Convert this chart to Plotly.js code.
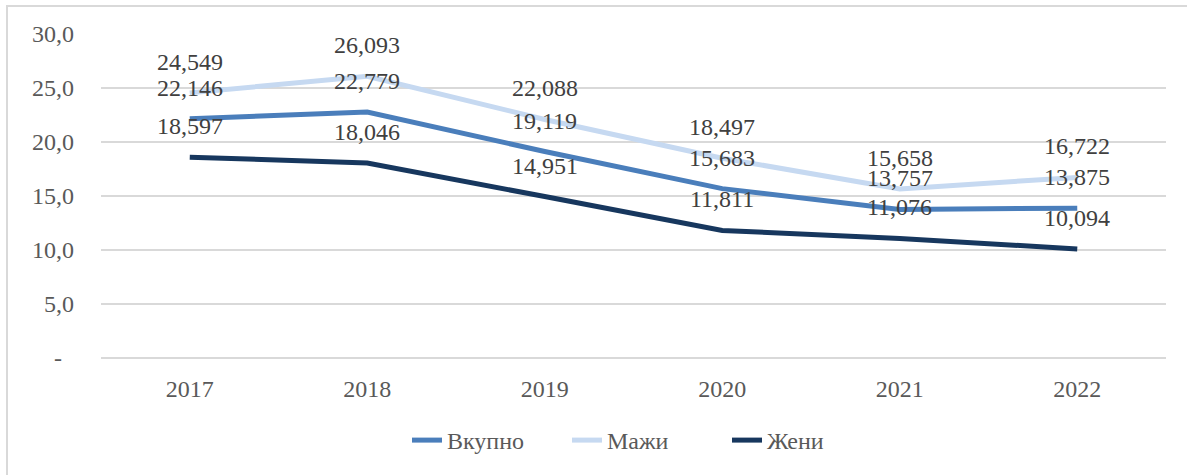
<!DOCTYPE html>
<html>
<head>
<meta charset="utf-8">
<script src="https://cdn.plot.ly/plotly-3.0.1.min.js"></script>
<style>
html,body{margin:0;padding:0;background:#fff;}
#frame{position:absolute;left:6px;top:5px;width:1200px;height:490px;border-left:2px solid #d9d9d9;border-top:2px solid #d9d9d9;}
#chart{position:absolute;left:0;top:0;width:1187px;height:475px;}
</style>
</head>
<body>
<div id="frame"></div>
<div id="chart"></div>
<script>
const years = ['2017','2018','2019','2020','2021','2022'];
const vkupno = [22.146, 22.779, 19.119, 15.683, 13.757, 13.875];
const mazhi  = [24.549, 26.093, 22.088, 18.497, 15.658, 16.722];
const zheni  = [18.597, 18.046, 14.951, 11.811, 11.076, 10.094];
const seriesNames = ['Вкупно', 'Мажи', 'Жени'];
const yTickVals = [0, 5, 10, 15, 20, 25, 30];
const yTickText = ['-\u00a0\u00a0', '5,0', '10,0', '15,0', '20,0', '25,0', '30,0'];

const colors = ['#4a7ebb', '#c6d9f1', '#17375e'];
const FONT = 'Liberation Serif';
const FS = 24;
const fmt = v => v.toFixed(3).replace('.', ',');

const data = [vkupno, mazhi, zheni].map((vals, i) => ({
  x: years, y: vals, name: seriesNames[i], type: 'scatter', mode: 'lines',
  line: {color: colors[i], width: 5}
}));

const annotations = [];
[vkupno, mazhi, zheni].forEach(vals => {
  vals.forEach((v, j) => {
    annotations.push({x: j, y: v, xref: 'x', yref: 'y', text: fmt(v),
      showarrow: false, yshift: 31, font: {family: FONT, size: FS, color: '#404040'}});
  });
});

const layout = {
  width: 1187, height: 475,
  margin: {l: 101, r: 21, t: 34, b: 117},
  paper_bgcolor: 'rgba(0,0,0,0)', plot_bgcolor: 'rgba(0,0,0,0)',
  showlegend: true,
  legend: {orientation: 'h', xref: 'container', x: 407 / 1187, xanchor: 'left',
    yref: 'container', y: 1 - 418 / 475, yanchor: 'top',
    entrywidth: 115, font: {family: FONT, size: FS, color: '#595959'}, traceorder: 'normal'},
  xaxis: {type: 'category', range: [-0.5, 5.5], showgrid: false, zeroline: false,
    showline: false, ticks: '', ticklabelstandoff: 14, automargin: false,
    tickfont: {family: FONT, size: FS, color: '#595959'}},
  yaxis: {range: [0, 30], tickvals: yTickVals, ticktext: yTickText,
    showgrid: true, gridcolor: '#d9d9d9', gridwidth: 1.3, automargin: false,
    zeroline: true, zerolinecolor: '#d9d9d9', zerolinewidth: 1.3, showline: false,
    ticks: '', ticklabelstandoff: 26,
    tickfont: {family: FONT, size: FS, color: '#595959'}},
  annotations: annotations
};

Plotly.newPlot('chart', data, layout, {displayModeBar: false, staticPlot: true});
</script>
</body>
</html>
